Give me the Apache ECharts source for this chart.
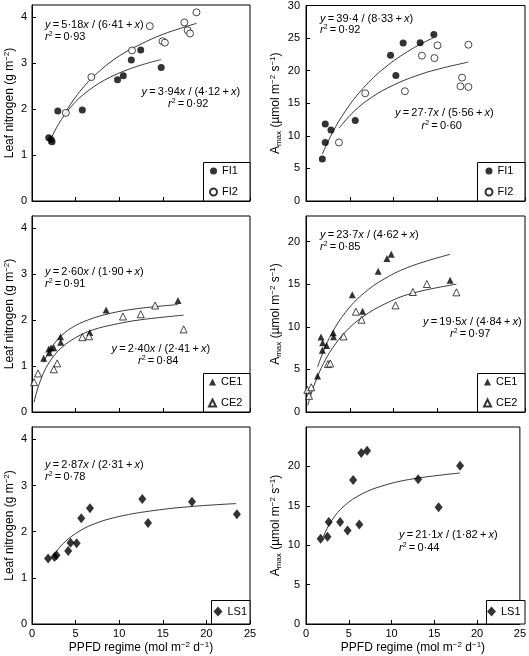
<!DOCTYPE html>
<html><head><meta charset="utf-8">
<script src="https://cdn.jsdelivr.net/npm/echarts@6/dist/echarts.min.js"></script>
<style>html,body{margin:0;padding:0;background:#fff}#c{width:529px;height:656px}</style>
</head><body><div id="c"></div>
<script>
// ---------- data ----------
// x = PPFD regime (mol m-2 d-1)
const nitrogenFI1 = [[1.92,1.38],[2.19,1.34],[2.30,1.29],[2.96,1.96],[5.77,1.98],[9.81,2.64],[10.47,2.73],[11.39,3.07],[12.47,3.29],[14.82,2.91]];
const nitrogenFI2 = [[3.88,1.92],[6.81,2.70],[11.47,3.28],[13.51,3.81],[14.97,3.48],[15.24,3.45],[17.47,3.89],[17.85,3.72],[18.13,3.65],[18.86,4.11]];
const amaxFI1 = [[1.86,6.43],[2.20,8.98],[2.20,11.83],[2.85,10.91],[5.62,12.35],[9.65,22.35],[10.26,19.24],[11.09,24.23],[13.03,24.29],[14.60,25.56]];
const amaxFI2 = [[3.76,8.98],[6.76,16.53],[11.29,16.84],[13.23,22.30],[14.66,21.93],[15.01,23.88],[17.63,17.60],[17.82,18.93],[18.54,17.50],[18.54,23.98]];

const nitrogenCE1 = [[1.34,1.17],[1.92,1.37],[1.99,1.29],[2.19,1.40],[2.50,1.40],[3.27,1.64],[3.30,1.52],[6.62,1.73],[8.50,2.22],[16.74,2.43]];
const nitrogenCE2 = [[0.23,0.65],[0.69,0.84],[2.50,0.93],[2.89,1.06],[5.77,1.63],[6.54,1.65],[10.43,2.08],[12.47,2.13],[14.12,2.32],[17.39,1.80]];
const amaxCE1 = [[1.32,4.21],[1.71,8.79],[1.90,8.13],[1.86,7.26],[2.35,7.81],[3.11,9.31],[3.15,8.84],[5.28,13.77],[6.46,11.81],[8.24,16.51],[9.24,18.00],[9.73,18.51],[16.45,15.45]];
const amaxCE2 = [[0.15,2.60],[0.35,1.90],[0.60,2.90],[2.51,5.62],[2.77,5.70],[4.29,8.87],[5.70,11.77],[6.34,10.83],[10.22,12.51],[12.20,14.08],[13.80,15.02],[17.17,14.04]];

const nitrogenLS1 = [[1.85,1.42],[2.58,1.45],[2.81,1.49],[4.15,1.58],[4.42,1.76],[5.12,1.75],[5.65,2.29],[6.65,2.51],[12.65,2.71],[13.31,2.19],[18.35,2.65],[23.50,2.38]];
const amaxLS1 = [[1.71,10.81],[2.51,11.06],[2.66,12.94],[3.99,12.94],[4.86,11.87],[5.51,18.26],[6.23,12.64],[6.46,21.70],[7.14,22.00],[13.11,18.38],[15.50,14.81],[18.01,20.09]];

// fitted curves
const fitNitrogenFI1 = [[1.9,1.24],[3,1.66],[4.5,2.06],[6.5,2.41],[9,2.70],[12,2.93],[14.8,3.08]];
const fitNitrogenFI2 = [[3.88,1.95],[5.5,2.39],[7.5,2.79],[10,3.16],[12.5,3.42],[15,3.63],[17,3.76],[18.86,3.87]];
const fitAmaxFI1 = [[1.86,7.19],[3,10.43],[4.5,13.82],[6.5,17.27],[9,20.46],[12,23.26],[14.6,25.09]];
const fitAmaxFI2 = [[3.76,11.17],[5.5,13.78],[7.5,15.91],[10,17.80],[12.5,19.17],[15,20.21],[18.54,21.31]];
const fitNitrogenCE1 = [[1.34,1.08],[2,1.33],[3,1.59],[4.5,1.83],[6.5,2.01],[9,2.15],[12,2.25],[16.74,2.34]];
const fitNitrogenCE2 = [[0.23,0.21],[0.6,0.48],[1,0.70],[1.6,0.96],[2.5,1.22],[3.5,1.42],[5,1.62],[7,1.79],[9.5,1.91],[12.5,2.01],[17.39,2.11]];
const fitAmaxCE1 = [[1.32,5.27],[2,7.16],[3,9.33],[4.5,11.69],[6.5,13.85],[9,15.66],[12,17.11],[16.45,18.50]];
const fitAmaxCE2 = [[0.2,0.77],[0.6,2.15],[1.2,3.87],[2,5.70],[3,7.46],[4.5,9.40],[6.5,11.18],[9,12.68],[12,13.90],[17.17,15.0]];
const fitNitrogenLS1 = [[2.5,1.49],[3.5,1.73],[5,1.96],[7,2.16],[10,2.33],[14,2.46],[18.5,2.55],[23.4,2.61]];
const fitAmaxLS1 = [[2,11.05],[3,13.13],[4.5,15.02],[6.5,16.48],[9,17.55],[12.5,18.42],[18,19.16]];

// axes
const ppfdTicks = [0,5,10,15,20,25];
const nitrogenTicks = [0,1,2,3,4];
const amaxTicksTop = [0,5,10,15,20,25,30];
const amaxTicksMid = [0,5,10,15,20];
const amaxTicksBot = [0,5,10,15,20];
const nitrogenMax = 4.27;
const amaxMax = [30, 23, 25];

// equation labels
const equations = [
  ['{i|y}\u2009=\u20095·18{i|x} / (6·41\u2009+\u2009{i|x})', '{i|r}{s|2}\u2009=\u20090·93'],
  ['{i|y}\u2009=\u20093·94{i|x} / (4·12\u2009+\u2009{i|x})', '{i|r}{s|2}\u2009=\u20090·92'],
  ['{i|y}\u2009=\u200939·4 / (8·33\u2009+\u2009{i|x})', '{i|r}{s|2}\u2009=\u20090·92'],
  ['{i|y}\u2009=\u200927·7{i|x} / (5·56\u2009+\u2009{i|x})', '{i|r}{s|2}\u2009=\u20090·60'],
  ['{i|y}\u2009=\u20092·60{i|x} / (1·90\u2009+\u2009{i|x})', '{i|r}{s|2}\u2009=\u20090·91'],
  ['{i|y}\u2009=\u20092·40{i|x} / (2·41\u2009+\u2009{i|x})', '{i|r}{s|2}\u2009=\u20090·84'],
  ['{i|y}\u2009=\u200923·7{i|x} / (4·62\u2009+\u2009{i|x})', '{i|r}{s|2}\u2009=\u20090·85'],
  ['{i|y}\u2009=\u200919·5{i|x} / (4·84\u2009+\u2009{i|x})', '{i|r}{s|2}\u2009=\u20090·97'],
  ['{i|y}\u2009=\u20092·87{i|x} / (2·31\u2009+\u2009{i|x})', '{i|r}{s|2}\u2009=\u20090·78'],
  ['{i|y}\u2009=\u200921·1{i|x} / (1·82\u2009+\u2009{i|x})', '{i|r}{s|2}\u2009=\u20090·44']
];
const eqPos = [
  [[45,25],[45,36.5]], [[141.5,91.5],[168,104]],
  [[320,18.5],[320,29.5]], [[395,112.5],[421.5,126]],
  [[45,272],[45,283.5]], [[111.5,348.5],[138,361]],
  [[320,235],[320,246.5]], [[423,321.5],[450,333.5]],
  [[45,465],[45,477]], [[399,535],[399,548]]
];

// ---------- chart ----------
const FONT = '"Liberation Sans", Arial, Helvetica, sans-serif';
const chart = echarts.init(document.getElementById('c'), null, {renderer:'canvas'});

const grids = [
  {left:32, top:5, width:218, height:196},
  {left:306, top:5, width:219, height:196},
  {left:32, top:216, width:218, height:196},
  {left:306, top:216, width:219, height:196},
  {left:32, top:427, width:218, height:197},
  {left:306, top:427, width:219, height:197}
].map(g => Object.assign({show:true, borderColor:'#000', borderWidth:1, backgroundColor:'transparent'}, g));

const richSup = {
  sup:{fontSize:8, lineHeight:8, verticalAlign:'top', fontFamily:FONT, color:'#000'},
  sub:{fontSize:8, lineHeight:8, verticalAlign:'bottom', fontFamily:FONT, color:'#000'}
};

const xAxes = grids.map((g,i) => ({
  type:'value', gridIndex:i, min:ppfdTicks[0], max:ppfdTicks[ppfdTicks.length-1], interval:ppfdTicks[1]-ppfdTicks[0],
  axisLine:{show:true, lineStyle:{color:'#000', width:1}},
  axisTick:{show:true, inside:true, length:4, lineStyle:{color:'#000'}},
  splitLine:{show:false},
  axisLabel:{show:i>=4, color:'#000', fontSize:11, fontFamily:FONT, margin:4},
  name: i>=4 ? 'PPFD regime (mol m{sup|−2} d{sup|−1})' : '',
  nameLocation:'middle', nameGap:17,
  nameTextStyle:{color:'#000', fontSize:12, lineHeight:14, fontFamily:FONT, rich:richSup}
}));

const yAxes = grids.map((g,i) => {
  const left = i%2===0;
  const row = Math.floor(i/2);
  const ticks = left ? nitrogenTicks : [amaxTicksTop, amaxTicksMid, amaxTicksBot][row];
  const mx = left ? nitrogenMax : amaxMax[row];
  return {
    type:'value', gridIndex:i, min:ticks[0], max:mx, interval:ticks[1]-ticks[0],
    axisLine:{show:true, lineStyle:{color:'#000', width:1}},
    axisTick:{show:true, inside:true, length:4, lineStyle:{color:'#000'}},
    splitLine:{show:false},
    axisLabel:{color:'#000', fontSize:11, fontFamily:FONT, margin:left?5:6,
      showMaxLabel: mx === ticks[ticks.length-1]},
    name: left ? 'Leaf nitrogen (g m{sup|−2})' : 'A{sub|max} (µmol m{sup|−2} s{sup|−1})',
    nameLocation:'middle', nameGap: left ? 11 : 23,
    nameTextStyle:{color:'#000', fontSize:12, lineHeight:14, fontFamily:FONT, rich:richSup}
  };
});

function pts(name, data, idx, symbol, size, open) {
  return {
    type:'scatter', name, data, xAxisIndex:idx, yAxisIndex:idx,
    symbol, symbolSize:size, z:5,
    itemStyle: open ? {color:'#fff', borderColor:'#000', borderWidth:0.9} : {color:'#000', borderColor:'#000', borderWidth:0},
    emphasis:{disabled:true}
  };
}
function fit(name, data, idx) {
  return {
    type:'line', name, data, xAxisIndex:idx, yAxisIndex:idx,
    smooth:0.4, symbol:'none', showSymbol:false, z:3, silent:true,
    lineStyle:{color:'#222', width:0.9}
  };
}

const series = [
  fit('fitNFI1', fitNitrogenFI1, 0), fit('fitNFI2', fitNitrogenFI2, 0),
  pts('FI1', nitrogenFI1, 0, 'circle', 7, false), pts('FI2', nitrogenFI2, 0, 'circle', 7, true),
  fit('fitAFI1', fitAmaxFI1, 1), fit('fitAFI2', fitAmaxFI2, 1),
  pts('FI1', amaxFI1, 1, 'circle', 7, false), pts('FI2', amaxFI2, 1, 'circle', 7, true),
  fit('fitNCE1', fitNitrogenCE1, 2), fit('fitNCE2', fitNitrogenCE2, 2),
  pts('CE1', nitrogenCE1, 2, 'triangle', 7, false), pts('CE2', nitrogenCE2, 2, 'triangle', 7, true),
  fit('fitACE1', fitAmaxCE1, 3), fit('fitACE2', fitAmaxCE2, 3),
  pts('CE1', amaxCE1, 3, 'triangle', 7, false), pts('CE2', amaxCE2, 3, 'triangle', 7, true),
  fit('fitNLS1', fitNitrogenLS1, 4),
  pts('LS1', nitrogenLS1, 4, 'diamond', [8,10], false),
  fit('fitALS1', fitAmaxLS1, 5),
  pts('LS1', amaxLS1, 5, 'diamond', [8,10], false)
];

const legendBase = {orient:'vertical', padding:0, itemGap:8, itemWidth:7, itemHeight:7, selectedMode:false, z:20,
  textStyle:{color:'#000', fontSize:11, lineHeight:13, fontFamily:FONT}};
const legends = [
  {data:['FI1','FI2'], left:209, top:164.5},
  {data:['FI1','FI2'], left:484.5, top:164.5},
  {data:['CE1','CE2'], left:208, top:375.5},
  {data:['CE1','CE2'], left:483, top:375.5},
  {data:['LS1'], left:213.5, top:605, itemWidth:9, itemHeight:10},
  {data:['LS1'], left:487, top:605, itemWidth:9, itemHeight:10}
].map(l => Object.assign({}, legendBase, l));

const legendBoxes = [
  [203.5,162.5,46.5,38.5],[477.5,162.5,47.5,38.5],
  [203.5,373.5,46.5,38.5],[477.5,373.5,47.5,38.5],
  [211.5,600.5,38.5,23.5],[486.5,600.5,38.5,23.5]
];

const eqRich = {
  i:{fontStyle:'italic', fontSize:11, fontFamily:FONT, fill:'#000'},
  s:{fontSize:7, lineHeight:7, verticalAlign:'top', fontFamily:FONT, fill:'#000'}
};
const graphics = [];
legendBoxes.forEach(b => graphics.push({type:'rect', z:10, shape:{x:b[0], y:b[1], width:b[2], height:b[3]},
  style:{fill:'#fff', stroke:'#000', lineWidth:1}}));
equations.forEach((eq, k) => {
  eq.forEach((t, j) => {
    graphics.push({type:'text', z:6, x:eqPos[k][j][0], y:eqPos[k][j][1],
      style:{text:t, fill:'#000', fontSize:11, fontFamily:FONT, lineHeight:12, rich:eqRich, align:'left', verticalAlign:'middle'}});
  });
});

chart.setOption({
  animation:false,
  backgroundColor:'#fff',
  grid:grids, xAxis:xAxes, yAxis:yAxes,
  legend:legends,
  series,
  graphic:{elements:graphics}
});
</script></body></html>
